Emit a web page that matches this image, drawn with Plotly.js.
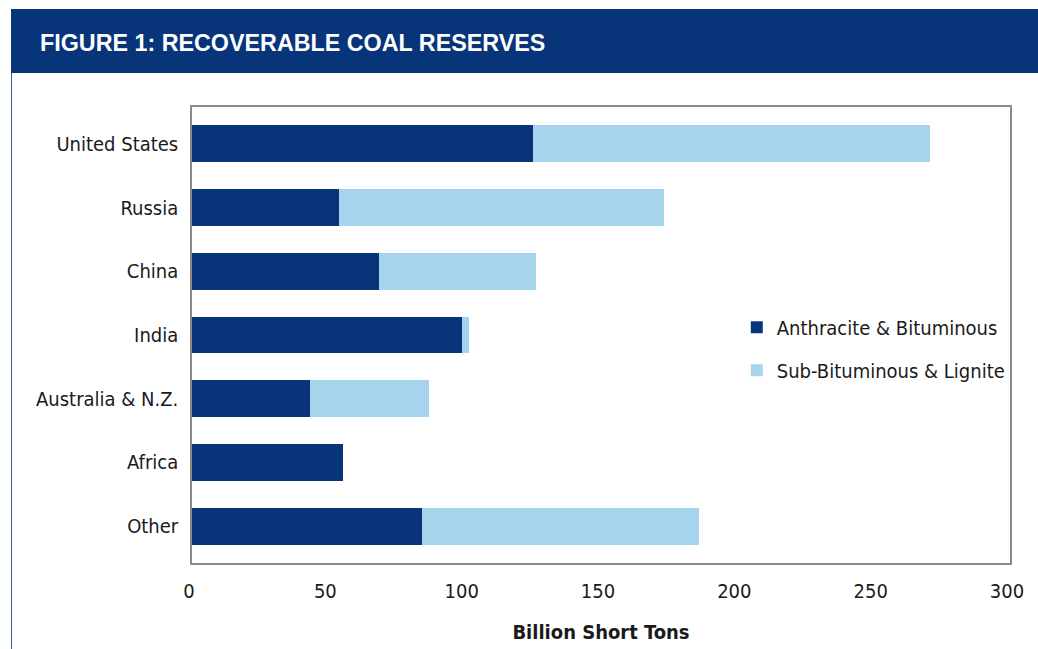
<!DOCTYPE html>
<html>
<head>
<meta charset="utf-8">
<script src="https://cdn.plot.ly/plotly-3.0.1.min.js"></script>
<style>
  html, body { margin: 0; padding: 0; background: #ffffff; }
  #chart { width: 1038px; height: 649px; }
  #chart svg text { font-stretch: condensed; }
</style>
</head>
<body>
<div id="chart"></div>
<script>
// Data (billion short tons)
const regions = ["United States", "Russia", "China", "India", "Australia & N.Z.", "Africa", "Other"];
const anthraciteBituminous = [125.1, 54.0, 68.7, 99.1, 43.1, 55.5, 84.5];
const subBituminousLignite = [145.6, 119.0, 57.5, 2.6, 44.0, 0.0, 101.5];
const xTickValues = [0, 50, 100, 150, 200, 250, 300];
const seriesNames = ["Anthracite & Bituminous", "Sub-Bituminous & Lignite"];

const navy = "#08347a";
const lightBlue = "#a6d4ec";
const narrow = "'DejaVu Sans Condensed', 'DejaVu Sans', sans-serif";

const traces = [
  {
    type: "bar", orientation: "h",
    y: regions, x: anthraciteBituminous,
    name: seriesNames[0], legendgroup: "a",
    marker: { color: navy, line: { width: 0 } },
    hoverinfo: "x+y+name"
  },
  {
    type: "bar", orientation: "h",
    y: regions, x: subBituminousLignite,
    name: seriesNames[1], legendgroup: "b",
    marker: { color: lightBlue, line: { width: 0 } },
    hoverinfo: "x+y+name"
  }
];

const layout = {
  width: 1038, height: 649,
  margin: { l: 192, r: 28, t: 107, b: 86, autoexpand: false },
  paper_bgcolor: "#ffffff", plot_bgcolor: "#ffffff",
  barmode: "stack",
  bargap: 0.42,
  font: { family: narrow, size: 20, color: "#1a1a1a" },
  title: {
    text: "<b>FIGURE 1: RECOVERABLE COAL RESERVES</b>",
    font: { family: "'Liberation Sans', Arial, sans-serif", size: 23.3, color: "#ffffff" },
    xref: "container", yref: "container",
    x: 40 / 1038, xanchor: "left",
    y: 1 - 43 / 649, yanchor: "middle"
  },
  xaxis: {
    range: [0, 300],
    tickvals: xTickValues,
    ticktext: xTickValues.map(String),
    showgrid: false, zeroline: false,
    showline: true, mirror: true, linecolor: "#8a8a8a", linewidth: 1.5,
    ticks: "", ticklabelstandoff: 9, ticklabelshift: -3,
    automargin: false,
    tickfont: { family: narrow, size: 20, color: "#1a1a1a" },
    title: { text: "<b>Billion Short Tons</b>", font: { family: narrow, size: 20, color: "#1a1a1a" }, standoff: 23 },
    fixedrange: true
  },
  yaxis: {
    type: "category",
    categoryorder: "array", categoryarray: regions,
    range: [6.58, -0.58],
    showgrid: false, zeroline: false,
    showline: true, mirror: true, linecolor: "#8a8a8a", linewidth: 1.5,
    ticks: "", ticklabelstandoff: 8,
    automargin: false,
    tickfont: { family: narrow, size: 20, color: "#1a1a1a" },
    fixedrange: true
  },
  showlegend: true,
  legend: {
    x: 0.666, xanchor: "left",
    y: 0.56, yanchor: "top",
    traceorder: "grouped",
    tracegroupgap: 14,
    bgcolor: "rgba(0,0,0,0)",
    font: { family: narrow, size: 20, color: "#1a1a1a" }
  },
  shapes: [
    { type: "rect", xref: "paper", yref: "paper", layer: "below",
      x0: (11 - 192) / 818, x1: (1040 - 192) / 818,
      y0: (563 - 73) / 456, y1: (563 - 9) / 456,
      fillcolor: navy, line: { width: 0 } },
    { type: "line", xref: "paper", yref: "paper", layer: "below",
      x0: (11.5 - 192) / 818, x1: (11.5 - 192) / 818,
      y0: (563 - 73) / 456, y1: (563 - 652) / 456,
      line: { color: "#3a5a9a", width: 1 } }
  ]
};

Plotly.newPlot("chart", traces, layout, { displayModeBar: false });
</script>
</body>
</html>
